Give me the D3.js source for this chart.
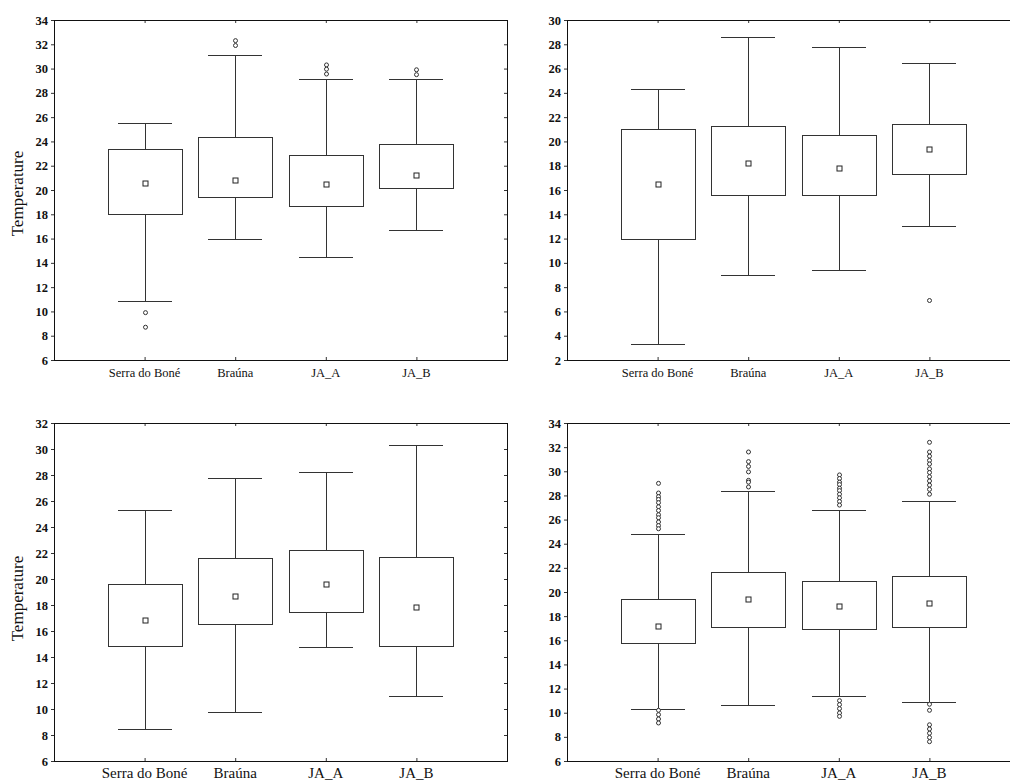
<!DOCTYPE html>
<html>
<head>
<meta charset="utf-8">
<script src="https://cdn.jsdelivr.net/npm/d3@7/dist/d3.min.js"></script>
<style>
  html, body { margin: 0; padding: 0; background: #fff; overflow: hidden; }
  svg { display: block; }
  svg text { font-family: "Liberation Serif", "DejaVu Serif", "Times New Roman", serif; }
</style>
</head>
<body>
<svg id="chart" width="1010" height="781"></svg>
<script>
// ---------- DATA ----------
const categories = ["Serra do Boné", "Braúna", "JA_A", "JA_B"];
const yLabel = "Temperature";

const yMin = [6, 2, 6, 6];
const yMax = [34, 30, 32, 34];

// Panel 1 (top-left)
const p1Low   = [10.9, 16.0, 14.5, 16.7];
const p1Q1    = [18.0, 19.4, 18.65, 20.2];
const p1Mean  = [20.6, 20.85, 20.5, 21.2];
const p1Q3    = [23.35, 24.4, 22.85, 23.8];
const p1High  = [25.5, 31.1, 29.1, 29.1];
const p1Out   = [[9.9, 8.7], [32.3, 31.9], [30.3, 29.95, 29.55], [29.9, 29.5]];

// Panel 2 (top-right)
const p2Low   = [3.35, 9.0, 9.4, 13.05];
const p2Q1    = [12.0, 15.6, 15.6, 17.3];
const p2Mean  = [16.5, 18.2, 17.85, 19.4];
const p2Q3    = [21.05, 21.3, 20.55, 21.45];
const p2High  = [24.3, 28.6, 27.8, 26.5];
const p2Out   = [[], [], [], [6.9]];

// Panel 3 (bottom-left)
const p3Low   = [8.45, 9.8, 14.8, 10.98];
const p3Q1    = [14.83, 16.55, 17.5, 14.83];
const p3Mean  = [16.86, 18.7, 19.6, 17.86];
const p3Q3    = [19.6, 21.63, 22.25, 21.7];
const p3High  = [25.3, 27.77, 28.25, 30.28];
const p3Out   = [[], [], [], []];

// Panel 4 (bottom-right)
const p4Low   = [10.34, 10.6, 11.36, 10.92];
const p4Q1    = [15.76, 17.11, 16.95, 17.11];
const p4Mean  = [17.22, 19.38, 18.85, 19.05];
const p4Q3    = [19.38, 21.64, 20.87, 21.31];
const p4High  = [24.8, 28.36, 26.8, 27.5];
const p4Out   = [
  [29.0, 28.2, 27.9, 27.67, 27.4, 27.06, 26.75, 26.4, 26.15, 25.8, 25.5, 25.24, 10.2, 9.84, 9.48, 9.15],
  [31.6, 30.8, 30.4, 29.95, 29.25, 29.1, 28.7],
  [29.7, 29.4, 29.1, 28.9, 28.6, 28.4, 28.1, 27.8, 27.5, 27.2, 11.0, 10.67, 10.34, 9.98, 9.7],
  [32.4, 31.6, 31.25, 30.9, 30.6, 30.2, 29.9, 29.55, 29.2, 28.85, 28.5, 28.1, 10.7, 10.2, 9.0, 8.65, 8.3, 7.95, 7.6]
];

const panelsData = [
  {low: p1Low, q1: p1Q1, mean: p1Mean, q3: p1Q3, high: p1High, out: p1Out},
  {low: p2Low, q1: p2Q1, mean: p2Mean, q3: p2Q3, high: p2High, out: p2Out},
  {low: p3Low, q1: p3Q1, mean: p3Mean, q3: p3Q3, high: p3High, out: p3Out},
  {low: p4Low, q1: p4Q1, mean: p4Mean, q3: p4Q3, high: p4High, out: p4Out}
];

// ---------- LAYOUT ----------
const panelLayout = [
  {x: 54,  y: 20,  w: 453, h: 340, ylab: true,  catSize: 12.5, catDy: 17, labCY: 193.5},
  {x: 567, y: 20,  w: 453, h: 340, ylab: false, catSize: 12.5, catDy: 17},
  {x: 54,  y: 423, w: 453, h: 338, ylab: true,  catSize: 15,   catDy: 16.5, labCY: 598.5},
  {x: 567, y: 423, w: 453, h: 338, ylab: false, catSize: 15,   catDy: 16.5}
];

const svg = d3.select("#chart");
const lineColor = "#333";
const serif = "\"Liberation Serif\", \"DejaVu Serif\", \"Times New Roman\", serif";
const snap = v => Math.round(v) + 0.5;

panelsData.forEach((d, i) => {
  const L = panelLayout[i];
  const g = svg.append("g").attr("transform", `translate(${L.x},${L.y})`);

  const x = d3.scalePoint().domain(categories).range([0, L.w]).padding(1);
  const y = d3.scaleLinear().domain([yMin[i], yMax[i]]).range([L.h, 0]);
  const ticks = d3.range(yMin[i], yMax[i] + 0.001, 2);

  // left axis
  const yAxis = d3.axisLeft(y).tickValues(ticks).tickSize(3).tickPadding(3).tickFormat(d3.format("d"));
  const ya = g.append("g").call(yAxis);
  ya.attr("font-family", null);
  ya.select(".domain").remove();
  ya.selectAll("line").attr("stroke", lineColor);
  ya.selectAll("text").style("font-family", serif).style("font-weight", "bold")
    .style("font-size", "12.5px").attr("fill", "#111");

  // right axis ticks (inward)
  const yr = g.append("g").attr("transform", `translate(${L.w},0)`)
    .call(d3.axisLeft(y).tickValues(ticks).tickSize(3).tickFormat(""));
  yr.select(".domain").remove();
  yr.selectAll("line").attr("stroke", lineColor);

  // bottom axis (inward ticks)
  const xb = g.append("g").attr("transform", `translate(0,${L.h})`)
    .call(d3.axisTop(x).tickSize(3).tickFormat(""));
  xb.select(".domain").remove();
  xb.selectAll("line").attr("stroke", lineColor);

  // category labels
  g.append("g").selectAll("text").data(categories).join("text")
    .attr("x", c => x(c))
    .attr("y", L.h + L.catDy)
    .attr("text-anchor", "middle")
    .style("font-family", serif)
    .style("font-size", L.catSize + "px")
    .attr("fill", "#111")
    .text(c => c);

  // top axis ticks (inward)
  const xt = g.append("g").call(d3.axisBottom(x).tickSize(3).tickFormat(""));
  xt.select(".domain").remove();
  xt.selectAll("line").attr("stroke", lineColor);

  // frame
  g.append("rect").attr("x", 0.5).attr("y", 0.5).attr("width", L.w).attr("height", L.h)
    .attr("fill", "none").attr("stroke", "#111").attr("stroke-width", 1);

  const boxW = 74, capW = 54;
  const items = categories.map((c, k) => ({
    c, low: d.low[k], q1: d.q1[k], mean: d.mean[k], q3: d.q3[k], high: d.high[k], out: d.out[k]
  }));

  const bg = g.append("g").attr("stroke", lineColor).attr("fill", "none").attr("stroke-width", 1);

  // whisker stems
  bg.selectAll(".stem").data(items).join("line")
    .attr("x1", e => snap(x(e.c))).attr("x2", e => snap(x(e.c)))
    .attr("y1", e => snap(y(e.high))).attr("y2", e => snap(y(e.low)));
  // caps
  bg.selectAll(".capH").data(items).join("line")
    .attr("x1", e => Math.round(x(e.c) - capW / 2)).attr("x2", e => Math.round(x(e.c) + capW / 2))
    .attr("y1", e => snap(y(e.high))).attr("y2", e => snap(y(e.high)));
  bg.selectAll(".capL").data(items).join("line")
    .attr("x1", e => Math.round(x(e.c) - capW / 2)).attr("x2", e => Math.round(x(e.c) + capW / 2))
    .attr("y1", e => snap(y(e.low))).attr("y2", e => snap(y(e.low)));
  // boxes
  bg.selectAll(".box").data(items).join("rect")
    .attr("x", e => snap(x(e.c) - boxW / 2)).attr("width", boxW)
    .attr("y", e => snap(y(e.q3))).attr("height", e => Math.round(y(e.q1)) - Math.round(y(e.q3)))
    .attr("fill", "#fff");
  // mean markers
  bg.selectAll(".mean").data(items).join("rect")
    .attr("x", e => snap(x(e.c)) - 2.5).attr("width", 5)
    .attr("y", e => snap(y(e.mean)) - 2.5).attr("height", 5)
    .attr("fill", "#fff").attr("stroke", "#222");

  // outliers
  const outPts = items.flatMap(e => e.out.map(v => ({c: e.c, v})));
  g.append("g").selectAll("circle").data(outPts).join("circle")
    .attr("cx", p => snap(x(p.c))).attr("cy", p => y(p.v)).attr("r", 2)
    .attr("fill", "#fff").attr("stroke", "#333").attr("stroke-width", 1);

  if (L.ylab) {
    svg.append("text")
      .attr("transform", `translate(23,${L.labCY}) rotate(-90)`)
      .attr("text-anchor", "middle")
      .style("font-family", serif)
      .style("font-size", "17px")
      .attr("fill", "#111")
      .text(yLabel);
  }
});
</script>
</body>
</html>
